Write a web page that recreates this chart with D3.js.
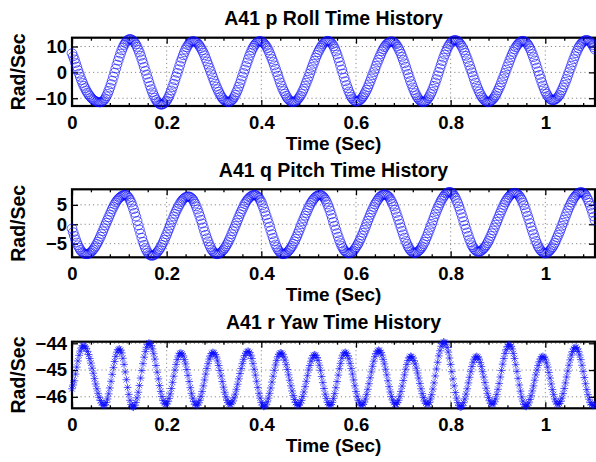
<!DOCTYPE html>
<html>
<head>
<meta charset="utf-8">
<script src="https://cdn.jsdelivr.net/npm/d3@7"></script>
<style>
  body { margin: 0; background: #fff; }
  text { font-family: "Liberation Sans", Arial, Helvetica, sans-serif; font-weight: bold; fill: #000; }
  .tick text { font: bold 18.5px "Liberation Sans", Arial, Helvetica, sans-serif; }
</style>
</head>
<body>
<svg id="chart" width="596" height="462"></svg>
<script>
// sample spacing of the three records (sec)
var sampleStep = 0.0025;

// p roll rate, rad/sec (one row = 0.05 sec)
var rollP = [
  7.4,6.2,5.0,3.6,2.2,0.85,-0.5,-1.75,-3.0,-4.1,-5.2,-6.1,-7.0,-7.8,-8.5,-9.1,-9.7,-10.2,-10.6,-10.9,
  -11.2,-11.4,-11.5,-11.6,-11.6,-11.5,-11.2,-10.7,-10.1,-9.25,-8.3,-7.15,-5.9,-4.55,-3.2,-1.65,-0.1,1.45,3.0,4.5,
  5.9,7.25,8.5,9.6,10.6,11.35,12.0,12.5,12.8,12.9,12.8,12.5,12.1,11.5,10.8,9.85,8.8,7.65,6.4,5.0,
  3.6,2.1,0.6,-0.85,-2.3,-3.75,-5.2,-6.5,-7.7,-8.8,-9.8,-10.65,-11.4,-11.9,-12.3,-12.5,-12.5,-12.3,-12.0,-11.5,
  -10.9,-10.1,-9.2,-8.1,-7.0,-5.7,-4.4,-3.0,-1.6,-0.2,1.2,2.65,4.1,5.35,6.6,7.75,8.8,9.7,10.5,11.1,
  11.6,11.9,12.1,12.05,11.9,11.65,11.3,10.75,10.1,9.35,8.5,7.6,6.6,5.4,4.2,3.0,1.8,0.55,-0.7,-1.95,
  -3.2,-4.35,-5.5,-6.5,-7.5,-8.4,-9.2,-9.9,-10.5,-10.9,-11.2,-11.4,-11.5,-11.4,-11.2,-10.8,-10.3,-9.55,-8.7,-7.7,
  -6.7,-5.5,-4.3,-2.95,-1.6,-0.25,1.1,2.45,3.8,5.1,6.4,7.5,8.6,9.5,10.3,10.95,11.5,11.85,12.1,12.1,
  12.0,11.7,11.3,10.8,10.2,9.4,8.5,7.4,6.3,5.15,4.0,2.7,1.4,0.05,-1.3,-2.6,-3.9,-5.1,-6.3,-7.25,
  -8.2,-9.05,-9.9,-10.45,-10.9,-11.25,-11.5,-11.5,-11.4,-11.15,-10.8,-10.3,-9.7,-9.0,-8.2,-7.25,-6.3,-5.15,-4.0,-2.85,
  -1.7,-0.4,0.9,2.1,3.3,4.5,5.7,6.75,7.8,8.65,9.5,10.2,10.9,11.4,11.8,12.05,12.2,12.1,11.9,11.45,
  10.9,10.1,9.2,8.05,6.9,5.5,4.1,2.6,1.1,-0.45,-2.0,-3.45,-4.9,-6.15,-7.4,-8.4,-9.4,-10.1,-10.7,-11.05,
  -11.3,-11.25,-11.1,-10.85,-10.5,-9.9,-9.3,-8.5,-7.7,-6.75,-5.8,-4.65,-3.5,-2.3,-1.1,0.1,1.3,2.55,3.8,4.9,
  6.0,7.05,8.1,8.9,9.7,10.35,11.0,11.35,11.7,11.9,12.0,11.9,11.7,11.3,10.8,10.0,9.2,8.2,7.2,6.0,
  4.8,3.5,2.2,0.8,-0.6,-1.95,-3.3,-4.55,-5.8,-6.9,-8.0,-8.85,-9.7,-10.35,-10.9,-11.25,-11.5,-11.5,-11.4,-11.1,
  -10.7,-10.0,-9.3,-8.4,-7.5,-6.35,-5.2,-3.9,-2.6,-1.2,0.2,1.6,3.0,4.35,5.7,6.85,8.0,9.0,10.0,10.75,
  11.5,11.95,12.3,12.45,12.5,12.35,12.1,11.6,11.1,10.35,9.6,8.6,7.6,6.4,5.2,3.9,2.6,1.3,0.0,-1.35,
  -2.7,-3.95,-5.2,-6.3,-7.4,-8.3,-9.2,-9.85,-10.5,-10.9,-11.3,-11.45,-11.5,-11.35,-11.1,-10.7,-10.2,-9.55,-8.9,-7.95,
  -7.0,-6.0,-5.0,-3.8,-2.6,-1.4,-0.2,1.05,2.3,3.5,4.7,5.85,7.0,7.95,8.9,9.65,10.4,10.95,11.5,11.85,
  12.1,12.2,12.1,11.85,11.5,10.9,10.2,9.3,8.3,7.1,5.9,4.6,3.3,1.85,0.4,-1.0,-2.4,-3.75,-5.1,-6.25,
  -7.4,-8.25,-9.1,-9.7,-10.3,-10.6,-10.8,-10.75,-10.6,-10.3,-9.9,-9.3,-8.7,-7.8,-6.9,-5.85,-4.8,-3.65,-2.5,-1.2,
  0.1,1.35,2.6,3.85,5.1,6.25,7.4,8.4,9.4,10.15,10.9,11.4,11.9,12.25,12.5,12.5,12.4,12.1,11.7,11.15,
  10.5,9.7,8.8
];

// q pitch rate, rad/sec
var pitchQ = [
  -1.1,-2.05,-3.0,-3.9,-4.7,-5.4,-6.0,-6.55,-7.0,-7.3,-7.5,-7.65,-7.7,-7.7,-7.6,-7.4,-7.2,-6.85,-6.5,-6.05,
  -5.6,-5.05,-4.5,-3.85,-3.2,-2.5,-1.8,-1.05,-0.3,0.4,1.1,1.8,2.5,3.2,3.9,4.5,5.1,5.6,6.1,6.45,
  6.8,7.05,7.3,7.45,7.6,7.6,7.5,7.2,6.8,6.25,5.6,4.8,3.9,2.95,2.0,0.85,-0.3,-1.35,-2.4,-3.45,
  -4.5,-5.3,-6.1,-6.75,-7.3,-7.7,-8.0,-8.1,-8.1,-8.0,-7.8,-7.5,-7.2,-6.8,-6.4,-5.85,-5.3,-4.65,-4.0,-3.3,
  -2.6,-1.85,-1.1,-0.3,0.5,1.25,2.0,2.7,3.4,4.0,4.6,5.15,5.7,6.1,6.5,6.75,7.0,7.1,7.2,7.15,
  7.0,6.75,6.4,5.9,5.3,4.6,3.8,2.95,2.1,1.15,0.2,-0.8,-1.8,-2.7,-3.6,-4.4,-5.2,-5.85,-6.5,-6.9,
  -7.3,-7.55,-7.7,-7.7,-7.6,-7.4,-7.2,-6.9,-6.6,-6.15,-5.7,-5.15,-4.6,-3.95,-3.3,-2.55,-1.8,-1.1,-0.4,0.35,
  1.1,1.85,2.6,3.25,3.9,4.55,5.2,5.7,6.2,6.55,6.9,7.15,7.4,7.5,7.6,7.55,7.4,7.1,6.8,6.25,
  5.7,4.9,4.1,3.2,2.3,1.35,0.4,-0.6,-1.6,-2.55,-3.5,-4.35,-5.2,-5.85,-6.5,-6.9,-7.3,-7.55,-7.7,-7.7,
  -7.6,-7.4,-7.2,-6.85,-6.5,-6.05,-5.6,-5.0,-4.4,-3.75,-3.1,-2.35,-1.6,-0.8,0.0,0.75,1.5,2.2,2.9,3.6,
  4.3,4.9,5.5,5.95,6.4,6.75,7.1,7.3,7.5,7.6,7.6,7.45,7.2,6.85,6.4,5.8,5.1,4.3,3.5,2.55,
  1.6,0.6,-0.4,-1.35,-2.3,-3.2,-4.1,-4.85,-5.6,-6.15,-6.7,-7.0,-7.3,-7.45,-7.5,-7.45,-7.3,-7.05,-6.8,-6.35,
  -5.9,-5.4,-4.9,-4.25,-3.6,-2.9,-2.2,-1.45,-0.7,0.1,0.9,1.65,2.4,3.1,3.8,4.45,5.1,5.6,6.1,6.55,
  7.0,7.25,7.5,7.6,7.7,7.65,7.5,7.3,7.0,6.45,5.9,5.25,4.6,3.75,2.9,2.0,1.1,0.15,-0.8,-1.7,
  -2.6,-3.45,-4.3,-5.0,-5.7,-6.2,-6.7,-7.0,-7.3,-7.4,-7.4,-7.3,-7.1,-6.85,-6.6,-6.15,-5.7,-5.1,-4.5,-3.8,
  -3.1,-2.3,-1.5,-0.7,0.1,0.95,1.8,2.6,3.4,4.1,4.8,5.45,6.1,6.6,7.1,7.5,7.9,8.1,8.3,8.3,
  8.3,8.1,7.8,7.3,6.8,6.1,5.4,4.55,3.7,2.75,1.8,0.8,-0.2,-1.15,-2.1,-3.0,-3.9,-4.65,-5.4,-5.9,
  -6.4,-6.7,-7.0,-7.1,-7.1,-7.0,-6.8,-6.5,-6.2,-5.8,-5.4,-4.85,-4.3,-3.65,-3.0,-2.3,-1.6,-0.85,-0.1,0.65,
  1.4,2.15,2.9,3.6,4.3,4.95,5.6,6.1,6.6,7.0,7.4,7.65,7.9,8.0,8.1,8.05,7.9,7.65,7.3,6.8,
  6.3,5.6,4.9,4.0,3.1,2.2,1.3,0.3,-0.7,-1.6,-2.5,-3.4,-4.3,-5.0,-5.7,-6.2,-6.7,-7.0,-7.3,-7.45,
  -7.5,-7.45,-7.3,-7.0,-6.7,-6.3,-5.9,-5.35,-4.8,-4.1,-3.4,-2.7,-2.0,-1.2,-0.4,0.4,1.2,2.0,2.8,3.55,
  4.3,4.95,5.6,6.15,6.7,7.1,7.5,7.8,8.1,8.2,8.3,8.25,8.1,7.85,7.5,6.9,6.3,5.55,4.8,3.9,
  3.0,2.0,1.0
];

// r yaw rate, rad/sec
var yawR = [
  -45.70,-45.56,-45.40,-45.15,-44.89,-44.66,-44.45,-44.29,-44.17,-44.10,-44.09,-44.13,-44.19,-44.30,-44.42,-44.57,-44.74,-44.93,-45.12,-45.32,
  -45.52,-45.70,-45.87,-46.02,-46.14,-46.23,-46.30,-46.32,-46.30,-46.21,-46.08,-45.89,-45.67,-45.42,-45.16,-44.91,-44.68,-44.49,-44.33,-44.24,
  -44.21,-44.26,-44.36,-44.56,-44.79,-45.07,-45.36,-45.65,-45.91,-46.13,-46.29,-46.37,-46.39,-46.33,-46.21,-46.04,-45.83,-45.58,-45.30,-45.02,
  -44.76,-44.52,-44.31,-44.15,-44.04,-43.99,-44.01,-44.09,-44.21,-44.39,-44.59,-44.83,-45.08,-45.33,-45.58,-45.80,-45.99,-46.14,-46.24,-46.28,
  -46.26,-46.18,-46.06,-45.89,-45.69,-45.46,-45.23,-45.00,-44.79,-44.61,-44.47,-44.38,-44.36,-44.40,-44.47,-44.61,-44.77,-44.98,-45.20,-45.43,
  -45.66,-45.87,-46.05,-46.18,-46.28,-46.32,-46.30,-46.23,-46.13,-45.98,-45.80,-45.59,-45.37,-45.15,-44.94,-44.76,-44.59,-44.47,-44.38,-44.34,
  -44.36,-44.42,-44.51,-44.66,-44.83,-45.02,-45.22,-45.43,-45.64,-45.83,-46.00,-46.13,-46.22,-46.27,-46.28,-46.23,-46.16,-46.04,-45.90,-45.72,
  -45.53,-45.33,-45.13,-44.94,-44.76,-44.60,-44.46,-44.37,-44.31,-44.30,-44.34,-44.44,-44.57,-44.76,-44.97,-45.19,-45.42,-45.65,-45.87,-46.05,
  -46.21,-46.31,-46.36,-46.35,-46.30,-46.19,-46.05,-45.87,-45.67,-45.45,-45.23,-45.01,-44.81,-44.64,-44.50,-44.41,-44.36,-44.37,-44.41,-44.51,
  -44.63,-44.80,-44.98,-45.18,-45.38,-45.59,-45.78,-45.95,-46.10,-46.21,-46.29,-46.32,-46.30,-46.23,-46.14,-45.99,-45.82,-45.62,-45.42,-45.21,
  -45.00,-44.83,-44.67,-44.55,-44.46,-44.43,-44.45,-44.53,-44.64,-44.82,-45.01,-45.24,-45.47,-45.69,-45.90,-46.06,-46.21,-46.29,-46.32,-46.29,
  -46.21,-46.06,-45.88,-45.66,-45.43,-45.19,-44.95,-44.75,-44.56,-44.44,-44.36,-44.34,-44.38,-44.46,-44.58,-44.75,-44.94,-45.15,-45.37,-45.59,
  -45.80,-45.98,-46.13,-46.23,-46.30,-46.32,-46.28,-46.20,-46.08,-45.91,-45.72,-45.51,-45.29,-45.07,-44.86,-44.67,-44.50,-44.38,-44.30,-44.26,
  -44.28,-44.34,-44.44,-44.60,-44.77,-44.97,-45.18,-45.40,-45.62,-45.82,-45.99,-46.12,-46.22,-46.27,-46.28,-46.22,-46.13,-45.98,-45.80,-45.60,
  -45.39,-45.18,-44.97,-44.79,-44.64,-44.54,-44.49,-44.50,-44.55,-44.65,-44.77,-44.93,-45.11,-45.30,-45.50,-45.70,-45.88,-46.03,-46.16,-46.24,
  -46.28,-46.27,-46.21,-46.08,-45.92,-45.71,-45.48,-45.22,-44.96,-44.71,-44.47,-44.28,-44.11,-44.01,-43.95,-43.97,-44.03,-44.16,-44.33,-44.55,
  -44.79,-45.06,-45.33,-45.59,-45.84,-46.05,-46.22,-46.33,-46.39,-46.38,-46.33,-46.22,-46.08,-45.90,-45.70,-45.48,-45.27,-45.06,-44.87,-44.71,
  -44.59,-44.52,-44.49,-44.52,-44.59,-44.72,-44.87,-45.06,-45.26,-45.47,-45.68,-45.87,-46.03,-46.15,-46.24,-46.28,-46.26,-46.19,-46.08,-45.91,
  -45.72,-45.50,-45.26,-45.02,-44.78,-44.57,-44.38,-44.24,-44.12,-44.06,-44.05,-44.11,-44.21,-44.38,-44.57,-44.80,-45.05,-45.31,-45.56,-45.79,
  -46.00,-46.16,-46.29,-46.35,-46.36,-46.31,-46.23,-46.10,-45.96,-45.78,-45.59,-45.38,-45.18,-45.00,-44.83,-44.69,-44.58,-44.51,-44.49,-44.53,
  -44.59,-44.73,-44.89,-45.09,-45.30,-45.52,-45.73,-45.91,-46.08,-46.19,-46.26,-46.28,-46.25,-46.17,-46.05,-45.88,-45.69,-45.48,-45.26,-45.04,
  -44.82,-44.62,-44.44,-44.31,-44.21,-44.16,-44.15,-44.21,-44.30,-44.44,-44.61,-44.82,-45.05,-45.28,-45.51,-45.73,-45.92,-46.09,-46.22,-46.29,
  -46.32,-46.31,-46.28
];

// axis limits and tick labels
var timeDomain = [0, 1.105];
var timeTicks = [0, 0.2, 0.4, 0.6, 0.8, 1];
var timeMinorTicks = [0.04, 0.08, 0.12, 0.16, 0.24, 0.28, 0.32, 0.36, 0.44, 0.48, 0.52, 0.56,
  0.64, 0.68, 0.72, 0.76, 0.84, 0.88, 0.92, 0.96, 1.04, 1.08];
var rollDomain = [-13.0, 13.4];
var rollTicks = [-10, 0, 10];
var pitchDomain = [-8.5, 9.0];
var pitchTicks = [-5, 0, 5];
var yawDomain = [-46.43, -43.94];
var yawTicks = [-46, -45, -44];

var titles = ["A41 p Roll Time History", "A41 q Pitch Time History", "A41 r Yaw Time History"];
var xLabel = "Time (Sec)";
var yLabel = "Rad/Sec";

var blue = "#0a0aff";
var left = 72, right = 595;

var panels = [
  { title: titles[0], values: rollP, domain: rollDomain, ticks: rollTicks, marker: "o", top: 37.7, bottom: 106 },
  { title: titles[1], values: pitchQ, domain: pitchDomain, ticks: pitchTicks, marker: "o", top: 189.3, bottom: 257.3 },
  { title: titles[2], values: yawR, domain: yawDomain, ticks: yawTicks, marker: "*", top: 341.7, bottom: 408.3 }
];

var fmt = d3.format("~g");
var svg = d3.select("#chart");
var x = d3.scaleLinear().domain(timeDomain).range([left, right]);

// matlab style '*' marker
function asterisk(r) {
  var d = r * 0.72;
  return "M" + (-r) + ",0L" + r + ",0M0," + (-r) + "L0," + r +
    "M" + (-d) + "," + (-d) + "L" + d + "," + d +
    "M" + (-d) + "," + d + "L" + d + "," + (-d);
}

panels.forEach(function (p) {
  var y = d3.scaleLinear().domain(p.domain).range([p.bottom, p.top]);
  var g = svg.append("g");

  // dotted grid
  g.append("g").selectAll("line").data(timeTicks.filter(function (t) { return t > 0; }))
    .enter().append("line")
    .attr("x1", function (d) { return x(d); }).attr("x2", function (d) { return x(d); })
    .attr("y1", p.top).attr("y2", p.bottom)
    .attr("stroke", "#8a8a8a").attr("stroke-width", 1).attr("stroke-dasharray", "1.2,3");
  g.append("g").selectAll("line").data(p.ticks)
    .enter().append("line")
    .attr("x1", left).attr("x2", right)
    .attr("y1", function (d) { return y(d); }).attr("y2", function (d) { return y(d); })
    .attr("stroke", "#8a8a8a").attr("stroke-width", 1).attr("stroke-dasharray", "1.2,3");

  // ticks (inside) + labels
  var bottomAxis = g.append("g").attr("transform", "translate(0," + p.bottom + ")")
    .call(d3.axisBottom(x).tickValues(timeTicks).tickSizeInner(-6).tickSizeOuter(0).tickPadding(10).tickFormat(fmt));
  var topAxis = g.append("g").attr("transform", "translate(0," + p.top + ")")
    .call(d3.axisTop(x).tickValues(timeTicks).tickSizeInner(-6).tickSizeOuter(0).tickFormat(""));
  var bottomMinor = g.append("g").attr("transform", "translate(0," + p.bottom + ")")
    .call(d3.axisBottom(x).tickValues(timeMinorTicks).tickSizeInner(-3).tickSizeOuter(0).tickFormat(""));
  var topMinor = g.append("g").attr("transform", "translate(0," + p.top + ")")
    .call(d3.axisTop(x).tickValues(timeMinorTicks).tickSizeInner(-3).tickSizeOuter(0).tickFormat(""));
  var leftAxis = g.append("g").attr("transform", "translate(" + left + ",0)")
    .call(d3.axisLeft(y).tickValues(p.ticks).tickSizeInner(-6).tickSizeOuter(0).tickPadding(5).tickFormat(fmt));
  var rightAxis = g.append("g").attr("transform", "translate(" + right + ",0)")
    .call(d3.axisRight(y).tickValues(p.ticks).tickSizeInner(-6).tickSizeOuter(0).tickFormat(""));
  [bottomAxis, topAxis, bottomMinor, topMinor, leftAxis, rightAxis].forEach(function (a) {
    a.select(".domain").remove();
    a.selectAll(".tick line").attr("stroke", "#000").attr("stroke-width", 1.3);
  });

  // axes box
  g.append("rect")
    .attr("x", left).attr("y", p.top)
    .attr("width", right - left).attr("height", p.bottom - p.top)
    .attr("fill", "none").attr("stroke", "#000").attr("stroke-width", 2.2);

  var pts = p.values.map(function (v, i) { return { t: i * sampleStep, v: v }; });

  if (p.marker === "o") {
    g.append("g").selectAll("ellipse").data(pts).enter().append("ellipse")
      .attr("cx", function (d) { return x(d.t); })
      .attr("cy", function (d) { return y(d.v); })
      .attr("rx", 4.9).attr("ry", 4.4)
      .attr("fill", "none").attr("stroke", blue).attr("stroke-width", 0.8)
      .attr("stroke-opacity", 0.8);
  } else {
    g.append("g").selectAll("path").data(pts).enter().append("path")
      .attr("transform", function (d) { return "translate(" + x(d.t) + "," + y(d.v) + ")"; })
      .attr("d", asterisk(3.9))
      .attr("fill", "none").attr("stroke", blue).attr("stroke-width", 0.8)
      .attr("stroke-opacity", 0.85);
  }

  // title and axis labels
  g.append("text").attr("x", (left + right) / 2).attr("y", p.top - 12.7)
    .attr("text-anchor", "middle").style("font-size", "19.5px").text(p.title);
  g.append("text").attr("x", (left + right) / 2).attr("y", p.bottom + 44)
    .attr("text-anchor", "middle").style("font-size", "19px").text(xLabel);
  g.append("text")
    .attr("transform", "translate(25," + (p.top + p.bottom) / 2 + ") rotate(-90)")
    .attr("text-anchor", "middle").style("font-size", "19.5px").text(yLabel);
});
</script>
</body>
</html>
